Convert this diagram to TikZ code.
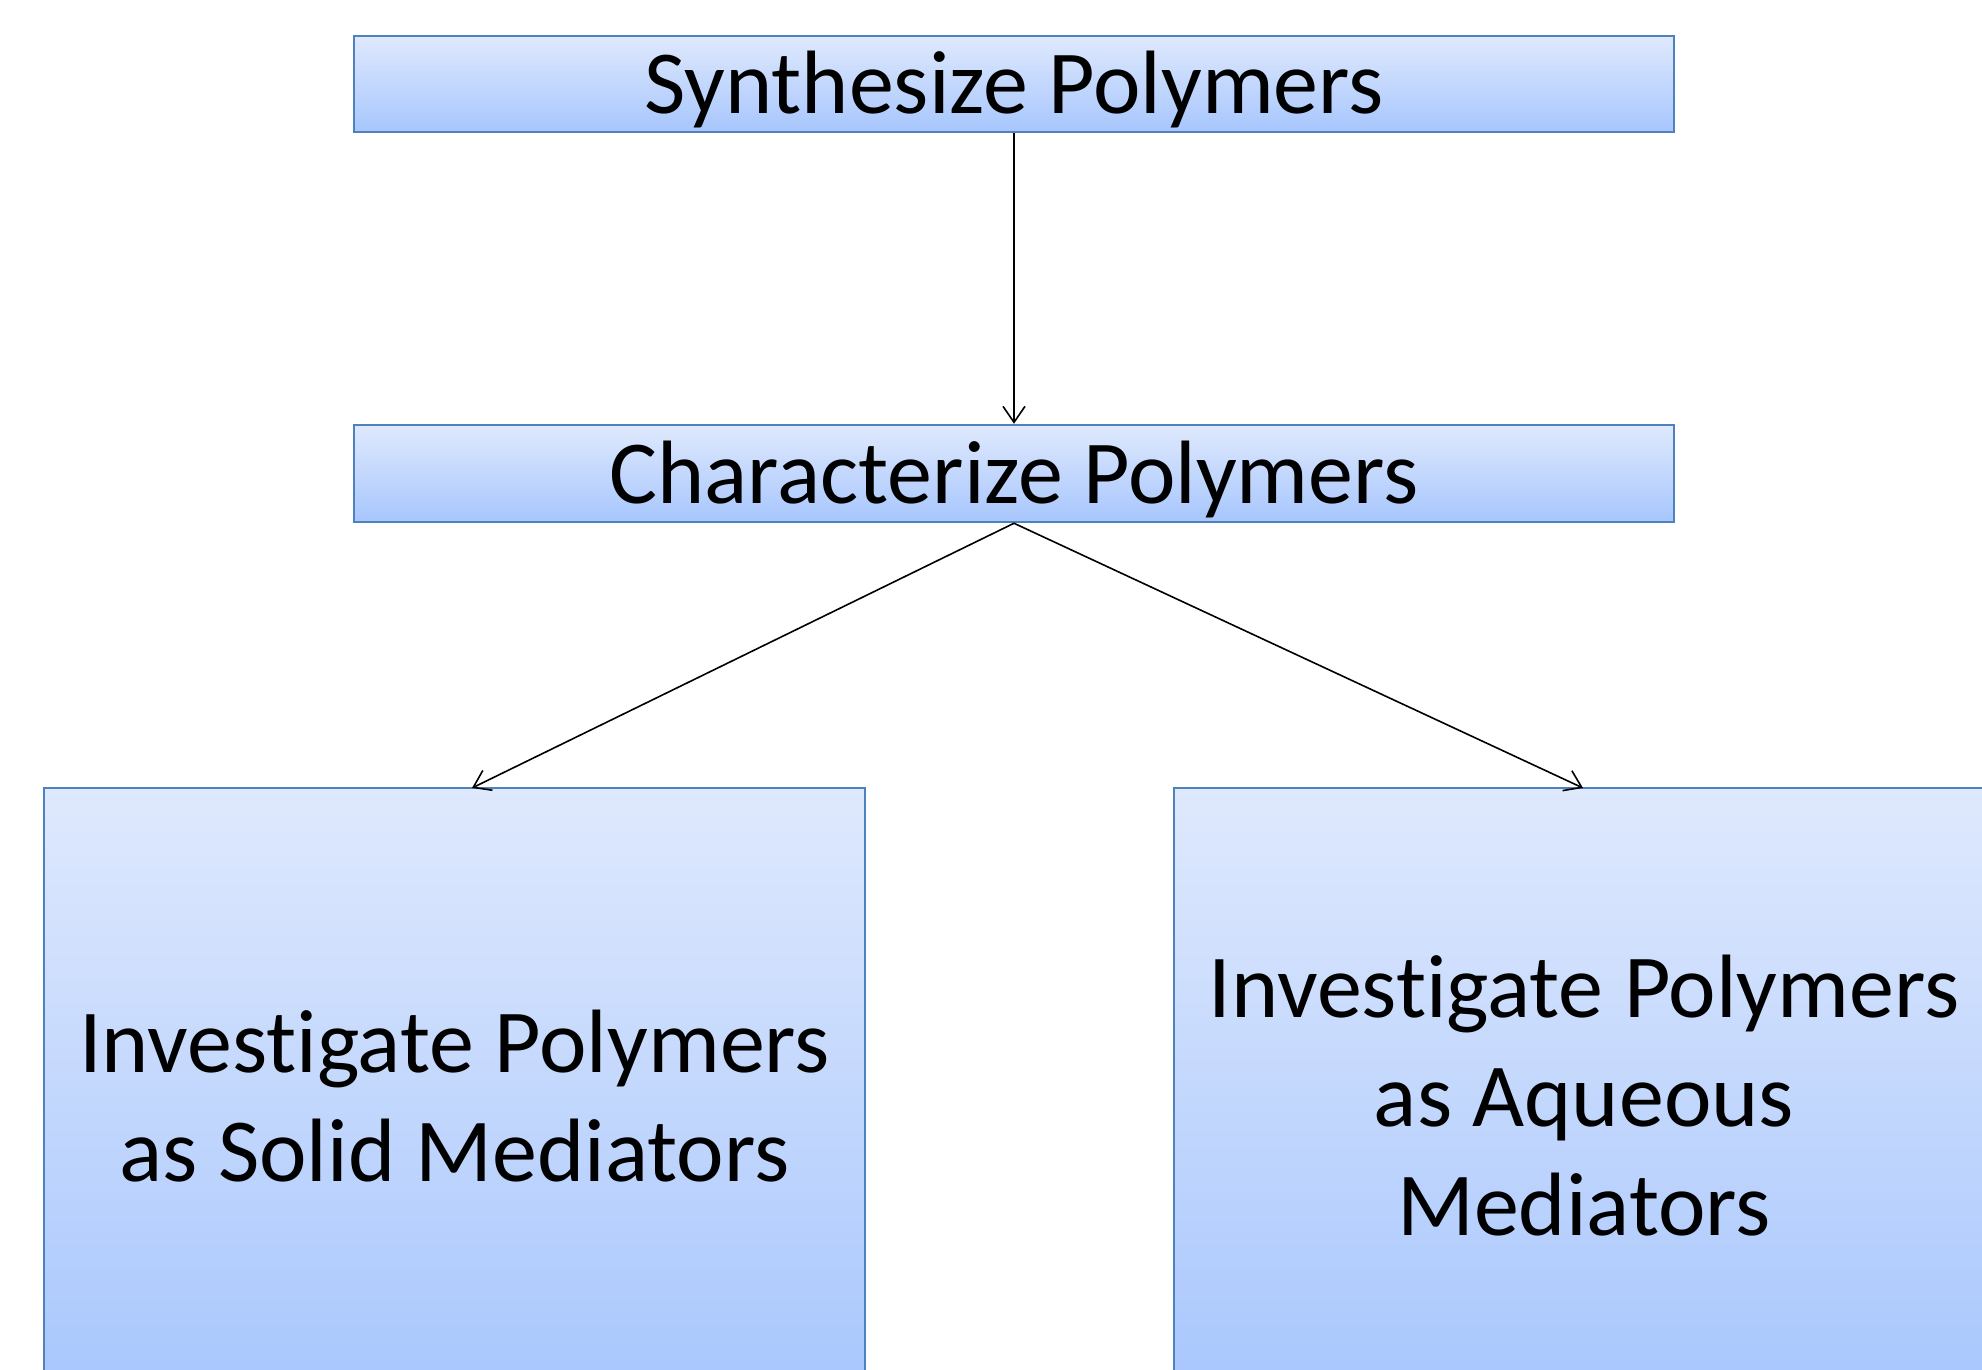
\documentclass[tikz,border=0pt]{standalone}
\usepackage{fontspec}
\setmainfont{Carlito}[Ligatures=NoCommon]
\usetikzlibrary{arrows.meta}
\definecolor{boxedge}{RGB}{79,129,189}
\definecolor{boxtop}{RGB}{223,233,253}
\definecolor{boxbottom}{RGB}{167,198,253}
\tikzset{
  stagebox/.style={draw=boxedge, line width=2.5pt, top color=boxtop, bottom color=boxbottom,
    inner sep=0pt, align=center, font=\fontsize{90}{109}\selectfont},
  flow/.style={draw=black, line width=1.6pt, -{Straight Barb[length=16pt,width=22pt,line width=1.6pt]}}
}
% lower a one-line label a little while keeping its box size for centring
\newcommand{\lowered}[1]{\raisebox{-6pt}[\height][\depth]{#1}}
\begin{document}
\begin{tikzpicture}[x=1pt,y=-1pt]
\useasboundingbox (0,0) rectangle (1982,1370);
\clip (0,0) rectangle (1982,1370);
\node[stagebox, minimum width=1320pt, minimum height=96pt] (synth) at (1014,84) {\lowered{Synthesize Polymers}};
\node[stagebox, minimum width=1320pt, minimum height=97pt] (charac) at (1014,473.5) {\lowered{Characterize Polymers}};
\node[stagebox, minimum width=821pt, minimum height=616pt] (solid) at (454.5,1096) {Investigate Polymers\\as Solid Mediators};
\node[stagebox, minimum width=820pt, minimum height=616pt] (aqueous) at (1584,1096) {Investigate Polymers\\as Aqueous\\Mediators};
\coordinate (solidin) at (472,788);
\coordinate (aqueousin) at (1583,788);
\draw[flow] (synth.south) -- (charac.north);
\draw[flow] (charac.south) -- (solidin);
\draw[flow] (charac.south) -- (aqueousin);
\end{tikzpicture}
\end{document}
